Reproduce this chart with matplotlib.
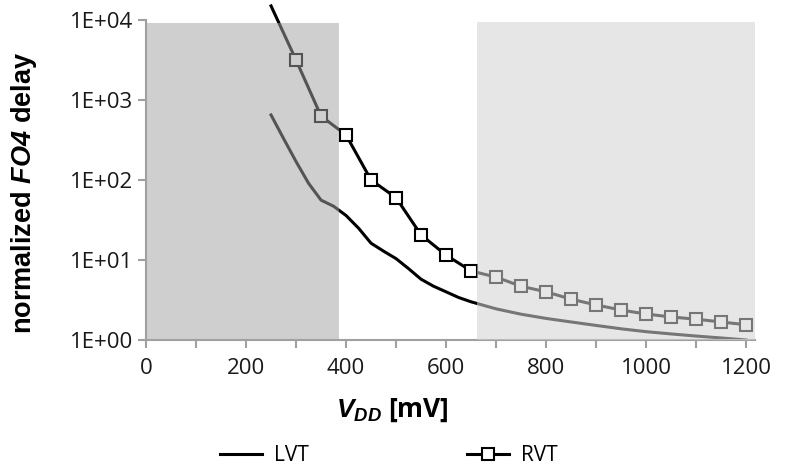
import numpy as np
import matplotlib.pyplot as plt
from matplotlib.patches import Rectangle

plt.rcParams['font.family'] = ['Open Sans', 'DejaVu Sans']
plt.rcParams['mathtext.fontset'] = 'custom'
plt.rcParams['mathtext.bf'] = 'Liberation Sans:bold'
plt.rcParams['mathtext.bfit'] = 'Liberation Sans:bold:italic'
plt.rcParams['mathtext.it'] = 'Liberation Sans:italic'

# data (VDD in mV, delay normalized)
vdd_lvt = [250, 275, 300, 325, 350, 375, 400, 425, 450, 475, 500, 525, 550,
           575, 600, 625, 650, 700, 750, 800, 850, 900, 950, 1000, 1050,
           1100, 1150, 1200]
lvt = [650, 330, 170, 91, 56, 47, 36, 25, 16.2, 12.9, 10.4, 7.8, 5.75,
       4.7, 4.0, 3.4, 3.0, 2.45, 2.1, 1.86, 1.68, 1.52, 1.38, 1.27, 1.19,
       1.12, 1.06, 1.0]

vdd_rvt = [250, 300, 350, 400, 450, 500, 550, 600, 650, 700, 750, 800,
           850, 900, 950, 1000, 1050, 1100, 1150, 1200]
rvt = [15000, 3160, 630, 365, 100, 60, 20.6, 11.5, 7.3, 6.1, 4.7, 4.0,
       3.24, 2.74, 2.37, 2.11, 1.94, 1.82, 1.68, 1.55]

# shaded operating regions (mV)
dark_region = (0, 386)
light_region = (662, 1218)

fig = plt.figure(figsize=(7.86, 4.67), dpi=100)
ax = fig.add_axes([0.1858, 0.272, 0.9606 - 0.1858, 0.728])

ax.plot(vdd_lvt, lvt, color='black', lw=2.2, zorder=2, label='LVT')
# first RVT point only carries the line, no marker
ax.plot(vdd_rvt, rvt, color='black', lw=2.2, marker='s', markersize=9,
        markerfacecolor='white', markeredgecolor='black', markeredgewidth=1.5,
        markevery=list(range(1, len(vdd_rvt))), zorder=2, label='RVT')

ax.set_yscale('log')
ax.set_xlim(0, 1218)
ax.set_ylim(1, 10 ** 4.25)

# semi-transparent overlays drawn on top of the curves
ax.add_patch(Rectangle((dark_region[0], 1), dark_region[1] - dark_region[0],
                       9100 - 1, facecolor='#a3a3a3', alpha=0.52,
                       edgecolor='none', zorder=3))
ax.add_patch(Rectangle((light_region[0], 1), light_region[1] - light_region[0],
                       9440 - 1, facecolor='#d3d3d3', alpha=0.56,
                       edgecolor='none', zorder=3))

ax.set_yticks([1, 10, 100, 1000, 10000])
ax.set_yticklabels(['1E+00', '1E+01', '1E+02', '1E+03', '1E+04'])
ax.yaxis.set_minor_locator(plt.NullLocator())
ax.set_xticks(np.arange(0, 1201, 100))
ax.set_xticklabels([str(v) if v % 200 == 0 else '' for v in range(0, 1201, 100)])

for s in ['top', 'right']:
    ax.spines[s].set_visible(False)
for s in ['left', 'bottom']:
    ax.spines[s].set_color('#a0a0a0')
    ax.spines[s].set_linewidth(1.5)
ax.spines['left'].set_bounds(1, 10000)
ax.tick_params(axis='both', color='#a0a0a0', width=1.5, length=6,
               labelsize=16, labelcolor='#1a1a1a')
ax.tick_params(axis='y', pad=3)
ax.tick_params(axis='x', pad=7)
ax.set_facecolor('none')

ax.set_ylabel(r'normalized $\mathbfit{FO4}$ delay', fontsize=19.5,
              fontweight='bold', family='Liberation Sans')
ax.yaxis.set_label_coords(-0.176, 0.432)
ax.set_xlabel(r'$\mathbfit{V}_{\mathbfit{DD}}$ [mV]', fontsize=19,
              fontweight='bold')
ax.xaxis.set_label_coords(0.404, -0.165)

fig.legend(loc='center', bbox_to_anchor=(0.495, 0.025), ncol=2, frameon=False,
           fontsize=15, handlelength=2.0, columnspacing=7.6, handletextpad=0.6)

fig.savefig('out.png', dpi=100)
